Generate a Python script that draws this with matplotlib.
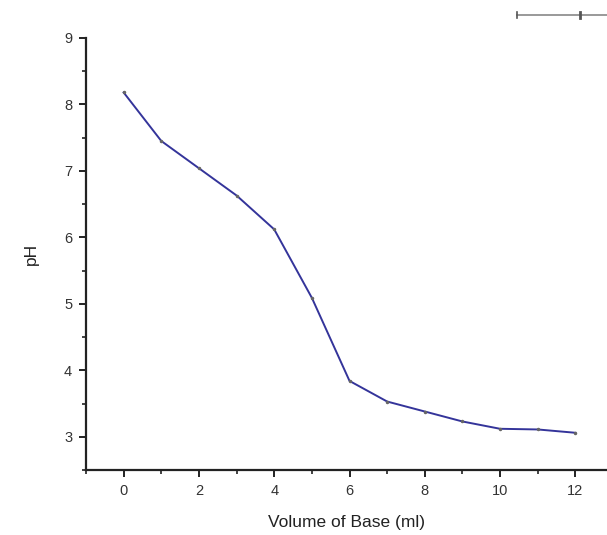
import matplotlib
matplotlib.use('Agg')
import matplotlib.pyplot as plt
from matplotlib.lines import Line2D
from matplotlib.ticker import MultipleLocator

# titration data
volume = [0, 1, 2, 3, 4, 5, 6, 7, 8, 9, 10, 11, 12]
ph = [8.18, 7.45, 7.04, 6.63, 6.12, 5.09, 3.84, 3.53, 3.38, 3.23, 3.12, 3.11, 3.06]

plt.rcParams['font.family'] = ['Liberation Sans', 'DejaVu Sans']

fig = plt.figure(figsize=(6.07, 5.35), dpi=100)
ax = fig.add_axes([0.1417, 0.1215, 0.8583, 0.8075])

ax.plot(volume, ph, color='#34349a', lw=1.4, marker='o', ms=1.5,
        mfc='#666666', mec='#666666')

ax.set_xlim(-1, 12.84)
ax.set_ylim(2.5, 9)
ax.xaxis.set_major_locator(MultipleLocator(2))
ax.xaxis.set_minor_locator(MultipleLocator(1))
ax.yaxis.set_major_locator(MultipleLocator(1))
ax.yaxis.set_minor_locator(MultipleLocator(0.5))

for s in ['top', 'right']:
    ax.spines[s].set_visible(False)
for s in ['left', 'bottom']:
    ax.spines[s].set_linewidth(1.6)
    ax.spines[s].set_color('#222222')

ax.tick_params(which='major', direction='out', length=5, width=1.4,
               labelsize=10.5, labelcolor='#333333', color='#222222', pad=5)
ax.tick_params(which='minor', direction='out', length=3, width=1.2,
               color='#222222')

ax.set_xlabel('Volume of Base (ml)', fontsize=12.5, color='#222222', labelpad=12)
ax.set_ylabel('pH', fontsize=12.5, color='#222222', labelpad=18)

# stray fragment at the top right of the original picture
fig.add_artist(Line2D([517/607, 1.0], [1-15/535, 1-15/535], color='#888888', lw=1.2))
fig.add_artist(Line2D([517/607, 517/607], [1-12/535, 1-18/535], color='#555555', lw=1.2))
fig.add_artist(Line2D([580/607, 580/607], [1-12/535, 1-18/535], color='#555555', lw=2))

fig.savefig('out.png', dpi=100)
